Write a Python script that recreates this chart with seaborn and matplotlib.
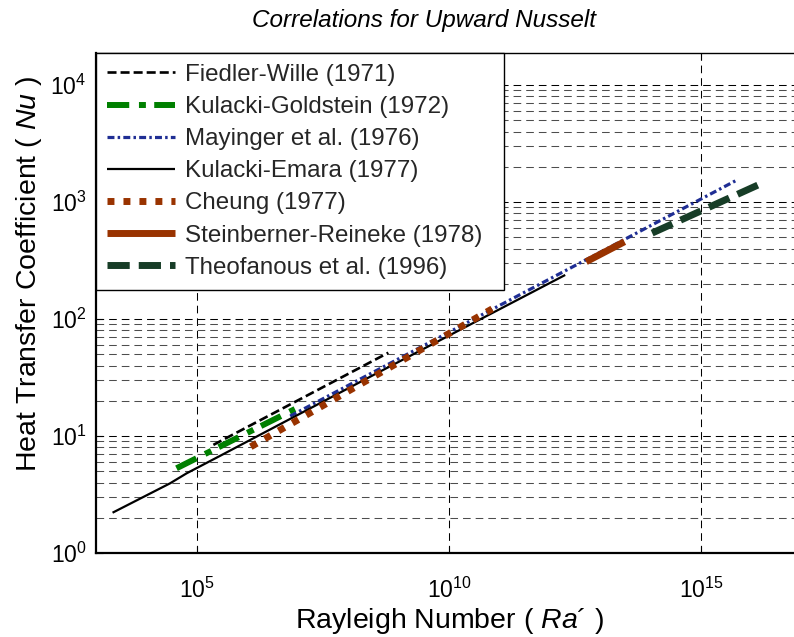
import matplotlib
matplotlib.use("Agg")
import numpy as np
import pandas as pd
import matplotlib.pyplot as plt
import seaborn as sns
from matplotlib.ticker import FixedLocator, LogFormatterSciNotation

# Correlation curves: Rayleigh number (Ra') vs upward Nusselt number (Nu)
fw_ra = [2.1e5, 6.2e8]
fw_nu = [8.4, 51.5]
kg_ra = [3.9e4, 8.7e6]
kg_nu = [5.3, 17.0]
my_ra = [7.0e6, 5.1e15]
my_nu = [14.8, 1542.0]
ke_ra = [2.1e3, 2.9e4, 6.2e4, 2.8e5, 2.7e8, 2.0e12]
ke_nu = [2.21, 3.94, 4.80, 6.74, 32.1, 238.0]
ch_ra = [1.16e6, 7.1e10]
ch_nu = [8.1, 122.0]
sr_ra = [5.2e12, 3.0e13]
sr_nu = [309.0, 458.0]
th_ra = [1.06e14, 1.47e16]
th_nu = [543.0, 1425.0]

labels = ["Fiedler-Wille (1971)", "Kulacki-Goldstein (1972)", "Mayinger et al. (1976)",
          "Kulacki-Emara (1977)", "Cheung (1977)", "Steinberner-Reineke (1978)",
          "Theofanous et al. (1996)"]
series_ra = [fw_ra, kg_ra, my_ra, ke_ra, ch_ra, sr_ra, th_ra]
series_nu = [fw_nu, kg_nu, my_nu, ke_nu, ch_nu, sr_nu, th_nu]

x_ticks = [1e5, 1e10, 1e15]
y_ticks = [1e0, 1e1, 1e2, 1e3, 1e4]

sns.set_theme(style="white")
plt.rcParams["font.family"] = ["Liberation Sans", "DejaVu Sans"]
plt.rcParams["mathtext.fontset"] = "custom"
plt.rcParams["mathtext.rm"] = "Liberation Sans"
plt.rcParams["mathtext.it"] = "Liberation Sans:italic"
plt.rcParams["lines.scale_dashes"] = False

# line styles (width in pt, dash pattern in pt)
styles = [
    dict(color="black", lw=1.9, ls=(0, (6.5, 2.9))),
    dict(color="#008000", lw=4.3, ls=(0, (16, 7, 5, 6))),
    dict(color="#1f2e94", lw=2.3, ls=(0, (5, 2.3, 1.8, 2.3))),
    dict(color="black", lw=1.6, ls="-"),
    dict(color="#993300", lw=5.0, ls=(0, (5, 6.5))),
    dict(color="#993300", lw=5.0, ls="-"),
    dict(color="#173d27", lw=5.0, ls=(0, (16, 6.5))),
]

frames = []
for lab, ra, nu in zip(labels, series_ra, series_nu):
    frames.append(pd.DataFrame({"Ra": ra, "Nu": nu, "corr": lab}))
df = pd.concat(frames, ignore_index=True)

fig = plt.figure(figsize=(7.94, 6.37), dpi=100)
ax_w = 730.5
ax = fig.add_axes([96.3 / 794, 84 / 637, ax_w / 794, 500 / 637])
ax.set_xscale("log")
ax.set_yscale("log")
ax.set_xlim(1e3, 10 ** 17.49)
ax.set_ylim(1, 10 ** 4.274)

# grid: major vertical lines, major + minor horizontal lines
grid_ls = (0, (5.5, 3.6))
for xv in x_ticks:
    ax.axvline(xv, color="black", lw=0.75, ls=grid_ls, zorder=1)
for dec in range(0, 5):
    for m in range(1, 10):
        yv = m * 10 ** dec
        if yv > 10 ** 4.274:
            continue
        if m == 1 and dec == 0:
            continue
        ax.axhline(yv, color="black" if m == 1 else "#4d4d4d", lw=0.75,
                   ls=grid_ls, zorder=1)

handles = []
for lab, st in zip(labels, styles):
    sub = df[df["corr"] == lab]
    sns.lineplot(data=sub, x="Ra", y="Nu", ax=ax, sort=False, color=st["color"],
                 linewidth=st["lw"], linestyle=st["ls"], label=lab,
                 solid_capstyle="butt", dash_capstyle="butt", zorder=3)
    handles.append(ax.lines[-1])

ax.xaxis.set_major_locator(FixedLocator(x_ticks))
ax.xaxis.set_minor_locator(FixedLocator([]))
ax.xaxis.set_major_formatter(LogFormatterSciNotation())
ax.yaxis.set_major_locator(FixedLocator(y_ticks))
ax.yaxis.set_minor_locator(FixedLocator([]))
ax.yaxis.set_major_formatter(LogFormatterSciNotation())
ax.tick_params(axis="both", which="major", direction="in", length=5, width=0.8,
               labelsize=16.5, colors="black", top=True, bottom=True, left=True)
ax.tick_params(axis="x", pad=18)
ax.tick_params(axis="y", pad=7)

for side in ["left", "bottom"]:
    ax.spines[side].set_linewidth(1.6)
    ax.spines[side].set_color("black")
ax.spines["top"].set_linewidth(1.0)
ax.spines["top"].set_color("black")
ax.spines["right"].set_visible(False)

ax.set_xlabel("Rayleigh Number ( $\\mathit{Ra}$\u00b4 )", fontsize=20.5, color="black")
ax.set_ylabel("Heat Transfer Coefficient ( $\\mathit{Nu}$ )", fontsize=20.5, color="black")
ax.xaxis.set_label_coords((450 - 96.3) / ax_w, -(636 - 553) / 500)
ax.xaxis.label.set_va("bottom")
ax.yaxis.set_label_coords(-(96.3 - 14) / ax_w, (553 - 274) / 500)
ax.yaxis.label.set_va("top")
fig.text(424.5 / 794, 1 - 21 / 637, "Correlations for Upward Nusselt", fontsize=17.5,
         style="italic", ha="center", va="center", color="black")

leg = ax.legend(handles=handles, labels=labels, loc="upper left",
                bbox_to_anchor=(0, 0, 408 / ax_w, 1), mode="expand",
                borderaxespad=0, fontsize=17.4,
                handlelength=2.8, handletextpad=0.42, labelspacing=0.42,
                borderpad=0.45, frameon=True, fancybox=False, framealpha=1)
leg.get_frame().set_edgecolor("black")
leg.get_frame().set_linewidth(1.0)
leg.set_zorder(5)

fig.savefig("out.png", dpi=100)
